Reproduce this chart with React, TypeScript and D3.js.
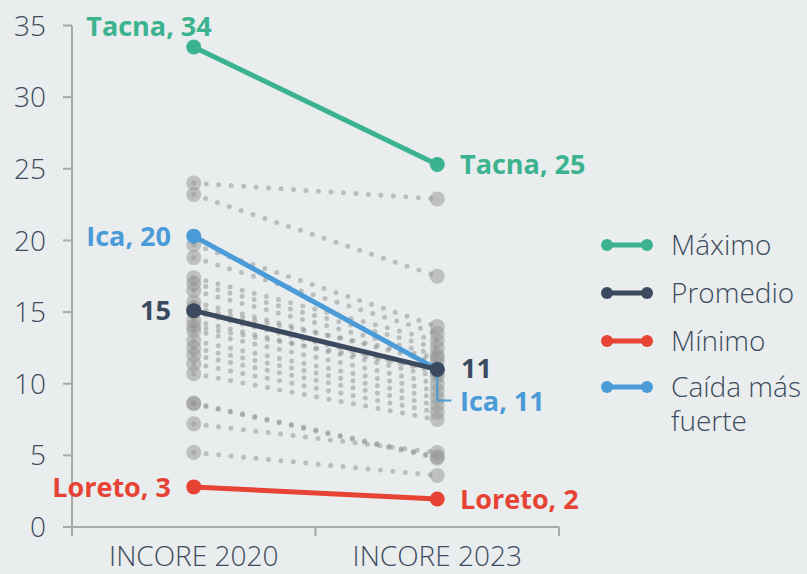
import React from "react";
import * as d3 from "d3";

const categories = ["INCORE 2020", "INCORE 2023"];
const yTicks = [0, 5, 10, 15, 20, 25, 30, 35];

// Gray regions: [2020, 2023]
const gray2020 = [24.0, 23.2, 19.7, 18.8, 17.4, 17.0, 16.5, 15.7, 15.3, 15.0, 14.4, 14.0, 13.7, 13.0, 12.5, 12.0, 11.4, 10.7, 8.65, 8.6, 7.2, 5.2];
const gray2023 = [22.9, 17.5, 14.0, 13.5, 13.0, 12.5, 12.0, 11.5, 11.8, 10.8, 10.5, 11.0, 10.0, 9.5, 9.0, 8.5, 8.0, 7.5, 4.9, 4.8, 5.2, 3.6];

const highlightNames = ["Máximo", "Promedio", "Mínimo", "Caída más fuerte"];
const highlight2020 = [33.5, 15.1, 2.8, 20.3];
const highlight2023 = [25.3, 11.0, 1.95, 11.0];
const highlightColors = ["#3bb38f", "#3b4a5f", "#e64334", "#4a9bd8"];
const leftLabels = ["Tacna, 34", "15", "Loreto, 3", "Ica, 20"];
const rightLabels = ["Tacna, 25", "11", "Loreto, 2", "Ica, 11"];

const W = 807;
const H = 574;
const BG = "#e9eded";
const TEXT = "#3d4b5e";
const AXIS = "#a9a9a9";
const FONT = "'Open Sans', 'Noto Sans', sans-serif";
const LBL = 27;

export default function App() {
  const x = d3.scalePoint<string>().domain(categories).range([72, 559]).padding(0.5);
  const y = d3.scaleLinear().domain([0, 35]).range([527, 25.5]);
  const x0 = x(categories[0])!;
  const x1 = x(categories[1])!;

  const drawOrder = [0, 3, 1, 2];

  return (
    <div style={{ position: "absolute", left: 0, top: 0, width: W, height: H }}>
      <svg width={W} height={H} style={{ display: "block", fontFamily: FONT }}>
        <rect width={W} height={H} fill={BG} />
        {/* axes */}
        <line x1={72} x2={72} y1={y(35)} y2={536} stroke={AXIS} strokeWidth={2} />
        <line x1={64} x2={559} y1={y(0)} y2={y(0)} stroke={AXIS} strokeWidth={2} />
        {yTicks.map((t) => (
          <g key={t}>
            <line x1={63} x2={72} y1={y(t)} y2={y(t)} stroke={AXIS} strokeWidth={2} />
            <text x={46} y={y(t)} dy="0.36em" textAnchor="end" fontSize={28} fontWeight={300} fill={TEXT}>
              {t}
            </text>
          </g>
        ))}
        {[72, 315.5, 559].map((tx, i) => (
          <line key={i} x1={tx} x2={tx} y1={y(0)} y2={536} stroke={AXIS} strokeWidth={2} />
        ))}
        {categories.map((c) => (
          <text key={c} x={x(c)} y={566} textAnchor="middle" fontSize={28} fontWeight={300} fill={TEXT}>
            {c}
          </text>
        ))}

        {/* gray lines */}
        {gray2020.map((v, i) => (
          <line
            key={"g" + i}
            x1={x0}
            y1={y(v)}
            x2={x1}
            y2={y(gray2023[i])}
            stroke="#8f8f8f"
            strokeOpacity={0.5}
            strokeWidth={5}
            strokeDasharray="0 12.5"
            strokeLinecap="round"
          />
        ))}
        {gray2020.map((v, i) => (
          <circle key={"a" + i} cx={x0} cy={y(v)} r={7.5} fill="#939393" fillOpacity={0.5} />
        ))}
        {gray2023.map((v, i) => (
          <circle key={"b" + i} cx={x1} cy={y(v)} r={7.5} fill="#939393" fillOpacity={0.5} />
        ))}

        {/* Ica leader line */}
        <polyline
          points={`${x1},${y(highlight2023[3])} ${x1},${y(highlight2023[3]) + 31} ${x1 + 14},${y(highlight2023[3]) + 31}`}
          fill="none"
          stroke={highlightColors[3]}
          strokeWidth={2}
        />

        {/* highlight lines */}
        {drawOrder.map((i) => (
          <g key={"h" + i}>
            <line
              x1={x0}
              y1={y(highlight2020[i])}
              x2={x1}
              y2={y(highlight2023[i])}
              stroke={highlightColors[i]}
              strokeWidth={5}
            />
            <circle cx={x0} cy={y(highlight2020[i])} r={7.5} fill={highlightColors[i]} />
            <circle cx={x1} cy={y(highlight2023[i])} r={7.5} fill={highlightColors[i]} />
          </g>
        ))}

        {/* labels */}
        <text x={149} y={y(highlight2020[0]) - 21} dy="0.36em" textAnchor="middle" fontSize={LBL} fontWeight={700} fill={highlightColors[0]}>
          {leftLabels[0]}
        </text>
        <text x={171} y={y(highlight2020[1])} dy="0.36em" textAnchor="end" fontSize={LBL} fontWeight={700} fill={highlightColors[1]}>
          {leftLabels[1]}
        </text>
        <text x={171} y={y(highlight2020[2])} dy="0.36em" textAnchor="end" fontSize={LBL} fontWeight={700} fill={highlightColors[2]}>
          {leftLabels[2]}
        </text>
        <text x={171} y={y(highlight2020[3])} dy="0.36em" textAnchor="end" fontSize={LBL} fontWeight={700} fill={highlightColors[3]}>
          {leftLabels[3]}
        </text>
        <text x={460} y={y(highlight2023[0])} dy="0.36em" textAnchor="start" fontSize={LBL} fontWeight={700} fill={highlightColors[0]}>
          {rightLabels[0]}
        </text>
        <text x={461} y={y(highlight2023[1]) - 1} dy="0.36em" textAnchor="start" fontSize={LBL} fontWeight={700} fill={highlightColors[1]}>
          {rightLabels[1]}
        </text>
        <text x={460} y={y(highlight2023[2])} dy="0.36em" textAnchor="start" fontSize={LBL} fontWeight={700} fill={highlightColors[2]}>
          {rightLabels[2]}
        </text>
        <text x={460} y={y(highlight2023[3]) + 32} dy="0.36em" textAnchor="start" fontSize={LBL} fontWeight={700} fill={highlightColors[3]}>
          {rightLabels[3]}
        </text>

        {/* legend */}
        {highlightNames.map((n, i) => {
          const ly = [245, 293, 341, 387][i];
          const words = i === 3 ? ["Caída más", "fuerte"] : [n];
          return (
            <g key={"l" + i}>
              <line x1={607} x2={647} y1={ly} y2={ly} stroke={highlightColors[i]} strokeWidth={5} />
              <circle cx={607} cy={ly} r={6} fill={highlightColors[i]} />
              <circle cx={647} cy={ly} r={6} fill={highlightColors[i]} />
              {words.map((w, k) => (
                <text key={k} x={671} y={ly + k * 34} dy="0.36em" fontSize={28} fontWeight={300} fill={TEXT}>
                  {w}
                </text>
              ))}
            </g>
          );
        })}
      </svg>
    </div>
  );
}
